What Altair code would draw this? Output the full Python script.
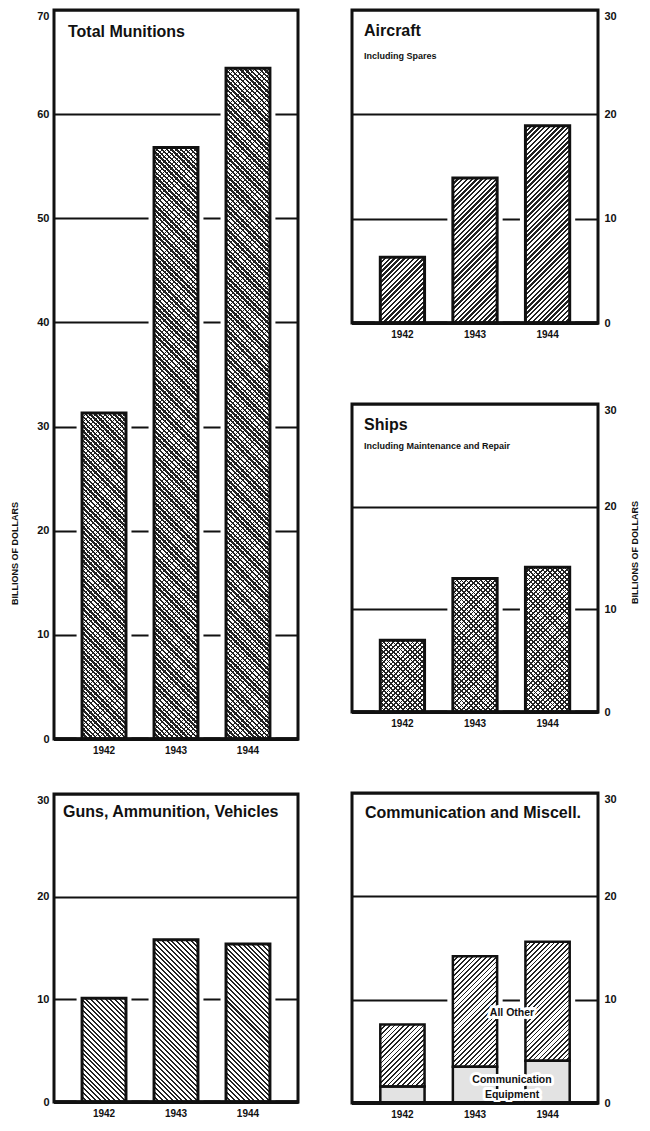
import math
import altair as alt
import pandas as pd

# ---- data (billions of dollars) ----
years = ["1942", "1943", "1944"]
total_munitions = [31.3, 56.8, 64.4]
aircraft = [6.3, 13.9, 18.9]
ships = [7.0, 13.0, 14.1]
guns = [10.1, 15.8, 15.4]
comm_equipment = [1.6, 3.5, 4.1]
comm_all_other = [6.0, 10.7, 11.5]

segments = ["Communication Equipment", "All Other"]

FONT = "Liberation Sans"
INK = "#111111"
CLEAR = "rgba(255,255,255,0)"
P_IN, P_OUT = 0.39, 0.39


def stripes(w, h, direction, frac, period=3.4, bg="white", ink="#222222"):
    """Diagonal hatch as a hard-stop linear gradient (bbox units)."""
    k = (w + h) / (w * w + h * h)
    if direction == "/":
        x1, y1, x2, y2 = 0, 0, k * w, k * h
    else:
        x1, y1, x2, y2 = 0, 1, k * w, 1 - k * h
    n = (w + h) / (period * math.sqrt(2))
    stops = []
    i = 0
    while i < n:
        a = i / n
        b = min((i + frac) / n, 1)
        c = min((i + 1) / n, 1)
        stops += [{"offset": round(a, 5), "color": ink}, {"offset": round(b, 5), "color": ink},
                  {"offset": round(b, 5), "color": bg}, {"offset": round(c, 5), "color": bg}]
        i += 1
    return {"gradient": "linear", "x1": x1, "y1": y1, "x2": x2, "y2": y2, "stops": stops}


def x_enc():
    return alt.X(
        "year:N",
        sort=years,
        scale=alt.Scale(domain=years, paddingInner=P_IN, paddingOuter=P_OUT),
        axis=alt.Axis(
            title=None, labelAngle=0, ticks=False, domain=True,
            domainColor=INK, domainWidth=3, labelPadding=6,
            labelFontSize=10, labelFontWeight="bold", labelFont=FONT,
            labelColor=INK, zindex=1,
        ),
    )


def y_axis(ymax, side, title=None, title_x=0, title_y=0):
    kw = dict(
        orient=side, values=list(range(0, ymax + 1, 10)), ticks=False,
        domain=False, grid=True, gridColor=INK, gridWidth=2,
        labelPadding=5 if side == "left" else 6, labelFontSize=11,
        labelFontWeight="bold", labelFont=FONT, labelColor=INK,
        labelBaseline={"condition": {"test": f"datum.value == {ymax}", "value": "top"},
                       "value": "middle"},
    )
    if title:
        kw.update(
            title=title, titleAngle=270, titleX=title_x, titleY=title_y,
            titleAlign="center", titleBaseline="middle", titleFontSize=9,
            titleFontWeight="bold", titleFont=FONT, titleColor=INK,
        )
    else:
        kw["title"] = None
    return alt.Axis(**kw)


def titles_layer(lines):
    layers = []
    for text, tx, ty, size in lines:
        layers.append(
            alt.Chart(pd.DataFrame({"t": [text]}))
            .mark_text(align="left", baseline="middle", font=FONT,
                       fontSize=size, fontWeight="bold", color=INK)
            .encode(x=alt.value(tx), y=alt.value(ty), text="t:N")
        )
    return layers


def base_rule(df, scale, ax):
    return alt.Chart(df).mark_rule(color=INK, strokeWidth=3).encode(
        y=alt.Y(datum=0, scale=scale, axis=ax)
    )


def bar_w(width):
    return width / (3 - P_IN + 2 * P_OUT) * (1 - P_IN)


def bar_panel(vals, ymax, height, width, side, hatch, lines, axis=None):
    df = pd.DataFrame({"year": years, "value": vals})
    ax = axis if axis is not None else y_axis(ymax, side)
    sc = alt.Scale(domain=[0, ymax], nice=False, zero=True)
    y = alt.Y("value:Q", scale=sc, axis=ax)
    base = alt.Chart(df).encode(x=x_enc(), y=y)
    layers = [base.mark_bar(fill="white", stroke="white", strokeWidth=11)]
    w = bar_w(width)
    for yr, v in zip(years, vals):
        h = v / ymax * height
        for j, (direction, frac) in enumerate(hatch):
            grad = stripes(w, h, direction, frac, bg="white" if j == 0 else CLEAR)
            layers.append(base.transform_filter(alt.datum.year == yr).mark_bar(fill=grad))
    layers.append(base.mark_bar(fill=CLEAR, stroke=INK, strokeWidth=3))
    layers.append(base_rule(df, sc, ax))
    layers += titles_layer(lines)
    return alt.layer(*layers).properties(width=width, height=height)


total_chart = bar_panel(
    total_munitions, 70, 729, 244, "left", [("\\", 0.5), ("/", 0.18)],
    [("Total Munitions", 14, 22, 16)],
    axis=y_axis(70, "left", "BILLIONS OF DOLLARS", -40, 543),
)
guns_chart = bar_panel(
    guns, 30, 308, 244, "left", [("\\", 0.42)],
    [("Guns, Ammunition, Vehicles", 9, 18, 16)],
)
aircraft_chart = bar_panel(
    aircraft, 30, 313, 246, "right", [("/", 0.5)],
    [("Aircraft", 12, 21, 16), ("Including Spares", 12, 46, 9)],
)
ships_chart = bar_panel(
    ships, 30, 308, 246, "right", [("/", 0.35), ("\\", 0.35)],
    [("Ships", 12, 21, 16), ("Including Maintenance and Repair", 12, 42, 9)],
    axis=y_axis(30, "right", "BILLIONS OF DOLLARS", 36, 148),
)

# ---- stacked communication panel ----
comm_df = pd.DataFrame({
    "year": years * 2,
    "segment": [segments[0]] * 3 + [segments[1]] * 3,
    "ord": [0] * 3 + [1] * 3,
    "value": comm_equipment + comm_all_other,
})
COMM_H, COMM_W = 310, 246
comm_axis = y_axis(30, "right")
comm_scale = alt.Scale(domain=[0, 30], nice=False, zero=True)
comm_halo = alt.Chart(comm_df).mark_bar(fill="white", stroke="white", strokeWidth=11).encode(
    x=x_enc(), y=alt.Y("sum(value):Q", scale=comm_scale, axis=comm_axis)
)
stacked = alt.Chart(comm_df).transform_stack(
    stack="value", groupby=["year"], as_=["y0", "y1"], sort=[alt.SortField("ord", order="ascending")]
).encode(
    x=x_enc(),
    y=alt.Y("y1:Q", scale=comm_scale, axis=comm_axis),
    y2="y0:Q",
)
comm_layers = [comm_halo]
cw = bar_w(COMM_W)
for yr, ce, ao in zip(years, comm_equipment, comm_all_other):
    comm_layers.append(
        stacked.transform_filter((alt.datum.year == yr) & (alt.datum.segment == segments[0]))
        .mark_bar(fill="#e3e3e3")
    )
    comm_layers.append(
        stacked.transform_filter((alt.datum.year == yr) & (alt.datum.segment == segments[1]))
        .mark_bar(fill=stripes(cw, ao / 30 * COMM_H, "/", 0.36))
    )
comm_layers.append(stacked.mark_bar(fill=CLEAR, stroke=INK, strokeWidth=2.5))
comm_layers.append(base_rule(comm_df, comm_scale, comm_axis))

label_text = ["All Other", "Communication", "Equipment"]
label_pos = [8.7, 2.2, 0.8]
label_df = pd.DataFrame({"t": label_text, "pos": label_pos})
lab_halo = alt.Chart(label_df).mark_text(
    font=FONT, fontSize=10.5, fontWeight="bold", stroke="white", strokeWidth=6,
    strokeJoin="round", color="white", align="center", baseline="middle",
).encode(x=alt.value(160), y=alt.Y("pos:Q", stack=None, scale=comm_scale, axis=comm_axis), text="t:N")
lab = alt.Chart(label_df).mark_text(
    font=FONT, fontSize=10.5, fontWeight="bold", color=INK, align="center", baseline="middle",
).encode(x=alt.value(160), y=alt.Y("pos:Q", stack=None, scale=comm_scale, axis=comm_axis), text="t:N")
comm_layers += [lab_halo, lab]
comm_layers += titles_layer([("Communication and Miscell.", 13, 20, 16)])

comm_chart = alt.layer(*comm_layers).properties(width=COMM_W, height=COMM_H)

left_col = alt.vconcat(total_chart, guns_chart, spacing=55, bounds="flush")
right_col = alt.vconcat(aircraft_chart, ships_chart, comm_chart, spacing=81, bounds="flush")

chart = (
    alt.hconcat(left_col, right_col, spacing=48)
    .properties(padding=0, background="white")
    .configure_view(stroke=INK, strokeWidth=3)
)

chart.save("out.html", embed_options={"renderer": "svg", "actions": False})
